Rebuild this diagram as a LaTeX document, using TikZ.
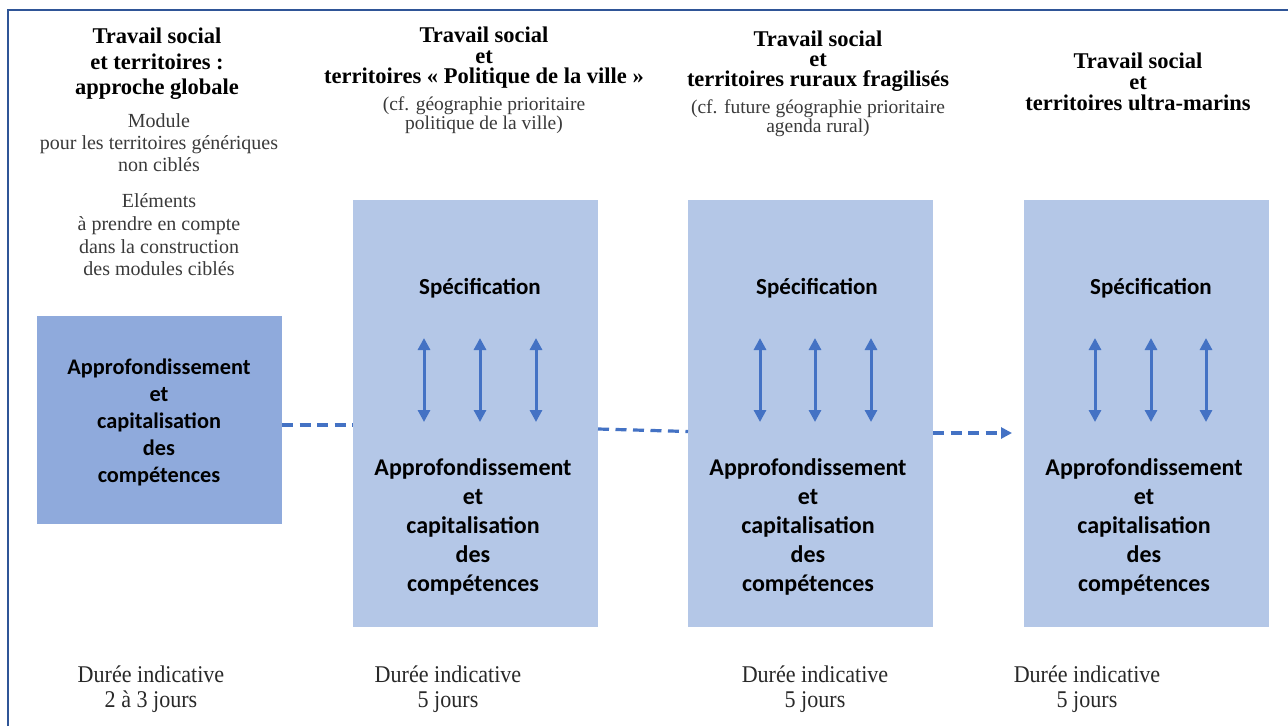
\documentclass[tikz,border=0pt]{standalone}
\usepackage{fontspec}
\setmainfont{Liberation Serif}
\newfontfamily\calibfont{Carlito}
\newfontfamily\condfont[FakeStretch=0.92]{Liberation Serif}
\usetikzlibrary{arrows.meta}
\definecolor{framecol}{HTML}{2F5597}
\definecolor{darkfill}{HTML}{8FAADC}
\definecolor{lightfill}{HTML}{B4C7E7}
\definecolor{accent}{HTML}{4472C4}
\definecolor{graytxt}{HTML}{3A3A3A}
\tikzset{
  darkbox/.style={fill=darkfill, draw=none, inner sep=0pt, outer sep=0pt, minimum width=245pt, minimum height=208pt},
  lightbox/.style={fill=lightfill, draw=none, inner sep=0pt, outer sep=0pt, minimum width=245pt, minimum height=427pt},
  header/.style={align=center, inner sep=0pt, font=\bfseries\fontsize{22.5}{21}\selectfont},
  subtxt/.style={align=center, inner sep=0pt, text=graytxt, font=\fontsize{19.5}{19}\selectfont},
  spec/.style={align=center, inner sep=0pt, font=\calibfont\bfseries\fontsize{23}{22}\selectfont},
  approf/.style={align=center, inner sep=0pt, font=\calibfont\bfseries\fontsize{24}{29}\selectfont},
  duree/.style={align=center, inner sep=0pt, text=graytxt!70!black, font=\condfont\fontsize{24}{25}\selectfont},
  dblarrow/.style={accent, line width=3pt, {Triangle[width=12pt,length=12pt]}-{Triangle[width=12pt,length=12pt]}},
  dashconn/.style={accent, line width=3.2pt, dash pattern=on 11pt off 6.5pt},
}
\begin{document}
\begin{tikzpicture}[x=1pt,y=-1pt]
\useasboundingbox (0,0) rectangle (1288,726);
\fill[white] (0,0) rectangle (1288,726);
\draw[framecol, line width=2pt] (8,726) -- (8,10) -- (1288,10);

% boxes
\node[darkbox] (b1) at (159.5,420) {};
\node[lightbox] (b2) at (475.5,413.5) {};
\node[lightbox] (b3) at (810.5,413.5) {};
\node[lightbox] (b4) at (1146,413.5) {};

% column 1 texts
\node[header, font=\bfseries\fontsize{22.5}{25.5}\selectfont] (h1) at (157,64) {Travail social\\et territoires :\\approche globale};
\node[subtxt, font=\fontsize{20}{22}\selectfont] (m1) at (159,143) {Module\\pour les territoires génériques\\non ciblés};
\node[subtxt, font=\fontsize{20}{22.6}\selectfont] (e1) at (159,235) {Eléments\\à prendre en compte\\dans la construction\\des modules ciblés};
\node[approf, font=\calibfont\bfseries\fontsize{22.3}{27}\selectfont] (t1) at (159,422) {Approfondissement\\et\\capitalisation\\des\\compétences};

% column 2
\node[header, font=\bfseries\fontsize{22.5}{20.5}\selectfont] (h2) at (484,58) {Travail social\\et\\territoires « Politique de la ville »};
\node[subtxt] (s2) at (484,115) {(cf. géographie prioritaire\\politique de la ville)};
\node[spec] (p2) at (480,288) {Spécification};
\node[approf] (t2) at (473,527) {Approfondissement\\et\\capitalisation\\des\\compétences};

% column 3
\node[header, font=\bfseries\fontsize{22.5}{20}\selectfont] (h3) at (818,61) {Travail social\\et\\territoires ruraux fragilisés};
\node[subtxt] (s3) at (818,118) {(cf. future géographie prioritaire\\agenda rural)};
\node[spec] (p3) at (817,288) {Spécification};
\node[approf] (t3) at (808,527) {Approfondissement\\et\\capitalisation\\des\\compétences};

% column 4
\node[header, font=\bfseries\fontsize{22.5}{21}\selectfont] (h4) at (1138,82) {Travail social\\et\\territoires ultra-marins};
\node[spec] (p4) at (1151,288) {Spécification};
\node[approf] (t4) at (1144,527) {Approfondissement\\et\\capitalisation\\des\\compétences};

% durations
\node[duree] (d1) at (151,689) {Durée indicative\\2 à 3 jours};
\node[duree] (d2) at (448,689) {Durée indicative\\5 jours};
\node[duree] (d3) at (815,689) {Durée indicative\\5 jours};
\node[duree] (d4) at (1087,689) {Durée indicative\\5 jours};

% double arrows
\foreach \n/\x in {a/424, b/480, c/536, d/760, e/815, f/871, g/1095, h/1151, i/1206} {
  \coordinate (top\n) at (\x,338);
  \coordinate (bot\n) at (\x,422);
  \draw[dblarrow] (top\n) -- (bot\n);
}

% dashed connectors
\coordinate (endarr) at (1012,433);
\draw[dashconn] ([yshift=-5pt]b1.east) -- ([yshift=-5pt]b1.east -| b2.west);
\draw[dashconn] ([yshift=-15.5pt]b2.east) -- ([yshift=-18pt]b3.west);
\draw[dashconn, -{Triangle[width=11pt,length=11pt]}] ([yshift=-19.5pt]b3.east) -- (endarr);
\end{tikzpicture}
\end{document}
